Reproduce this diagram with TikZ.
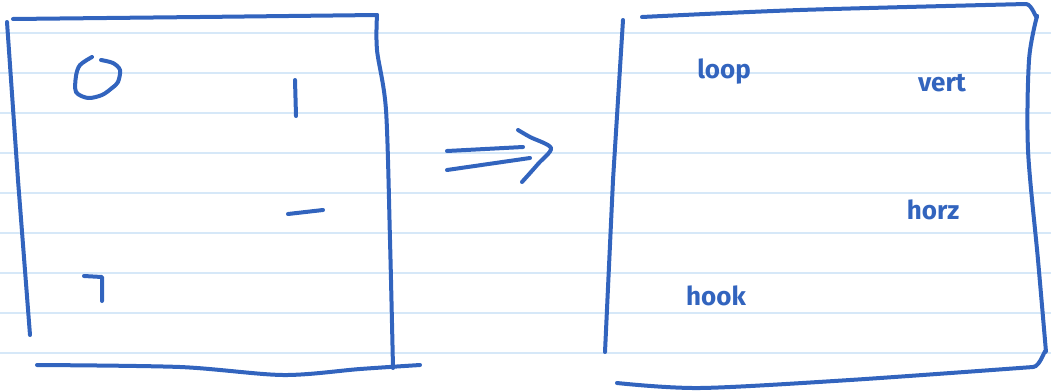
\documentclass[tikz,border=0pt]{standalone}
\usepackage{fontspec}
\setmainfont{Fira Sans}
\usepackage{tikz}
\usetikzlibrary{positioning}
\definecolor{inkblue}{RGB}{50,100,190}
\definecolor{ruleblue}{RGB}{214,232,248}

\begin{document}
\begin{tikzpicture}[
  x=1pt, y=-1pt,
  ink/.style={inkblue, line width=4pt, line cap=round, line join=round},
  ruled/.style={ruleblue, line width=1.4pt},
  word/.style={inkblue, font=\fontsize{26}{26}\selectfont\bfseries, inner sep=0pt, anchor=base}
]
\useasboundingbox (0,0) rectangle (1051,391);

% Ruled paper
\foreach \y in {33,73,...,353}
  \draw[ruled] (0,\y) -- (1051,\y);

% Left box
\draw[ink] (13,19) -- (200,17) -- (377,15);
\draw[ink] plot[smooth] coordinates {(377,15) (377,50) (386,110) (390,240) (393,368)};
\draw[ink] (7,22) -- (18,180) -- (30,335);
\draw[ink] plot[smooth] coordinates {(37,365) (180,367) (283,375) (360,369) (420,365)};

% Glyphs
\draw[ink] plot[smooth] coordinates {(92,57) (80,65) (76,76) (76,92) (88,98) (102,95) (112,88) (118,82) (120,70) (113,63) (101,60)};
\draw[ink] (295,80) -- (296,116);
\draw[ink] (288,214) -- (323,210);
\draw[ink] (84,276) -- (102,277) -- (102,301);

% Double arrow
\draw[ink] (447,151) -- (523,147);
\draw[ink] (447,170) -- (530,158);
\draw[ink] plot[smooth] coordinates {(518,130) (530,137) (551,148) (538,164) (522,182)};

% Right box
\draw[ink] plot[smooth] coordinates {(642,17) (800,10) (1026,4)} to[out=0,in=-90] (1037,16);
\draw[ink] plot[smooth] coordinates {(1037,16) (1029,60) (1028,150) (1038,260) (1046,352)} to[out=90,in=0] (1033,367);
\draw[ink] plot[smooth] coordinates {(617,383) (700,388) (850,380) (1033,367)};
\draw[ink] (623,20) -- (613,180) -- (605,352);

% Labels
\node[word] (loop) at (724,78) {loop};
\node[word] (vert) at (942,91) {vert};
\node[word] (horz) at (933,219) {horz};
\node[word] (hook) at (716,305) {hook};

\end{tikzpicture}
\end{document}
